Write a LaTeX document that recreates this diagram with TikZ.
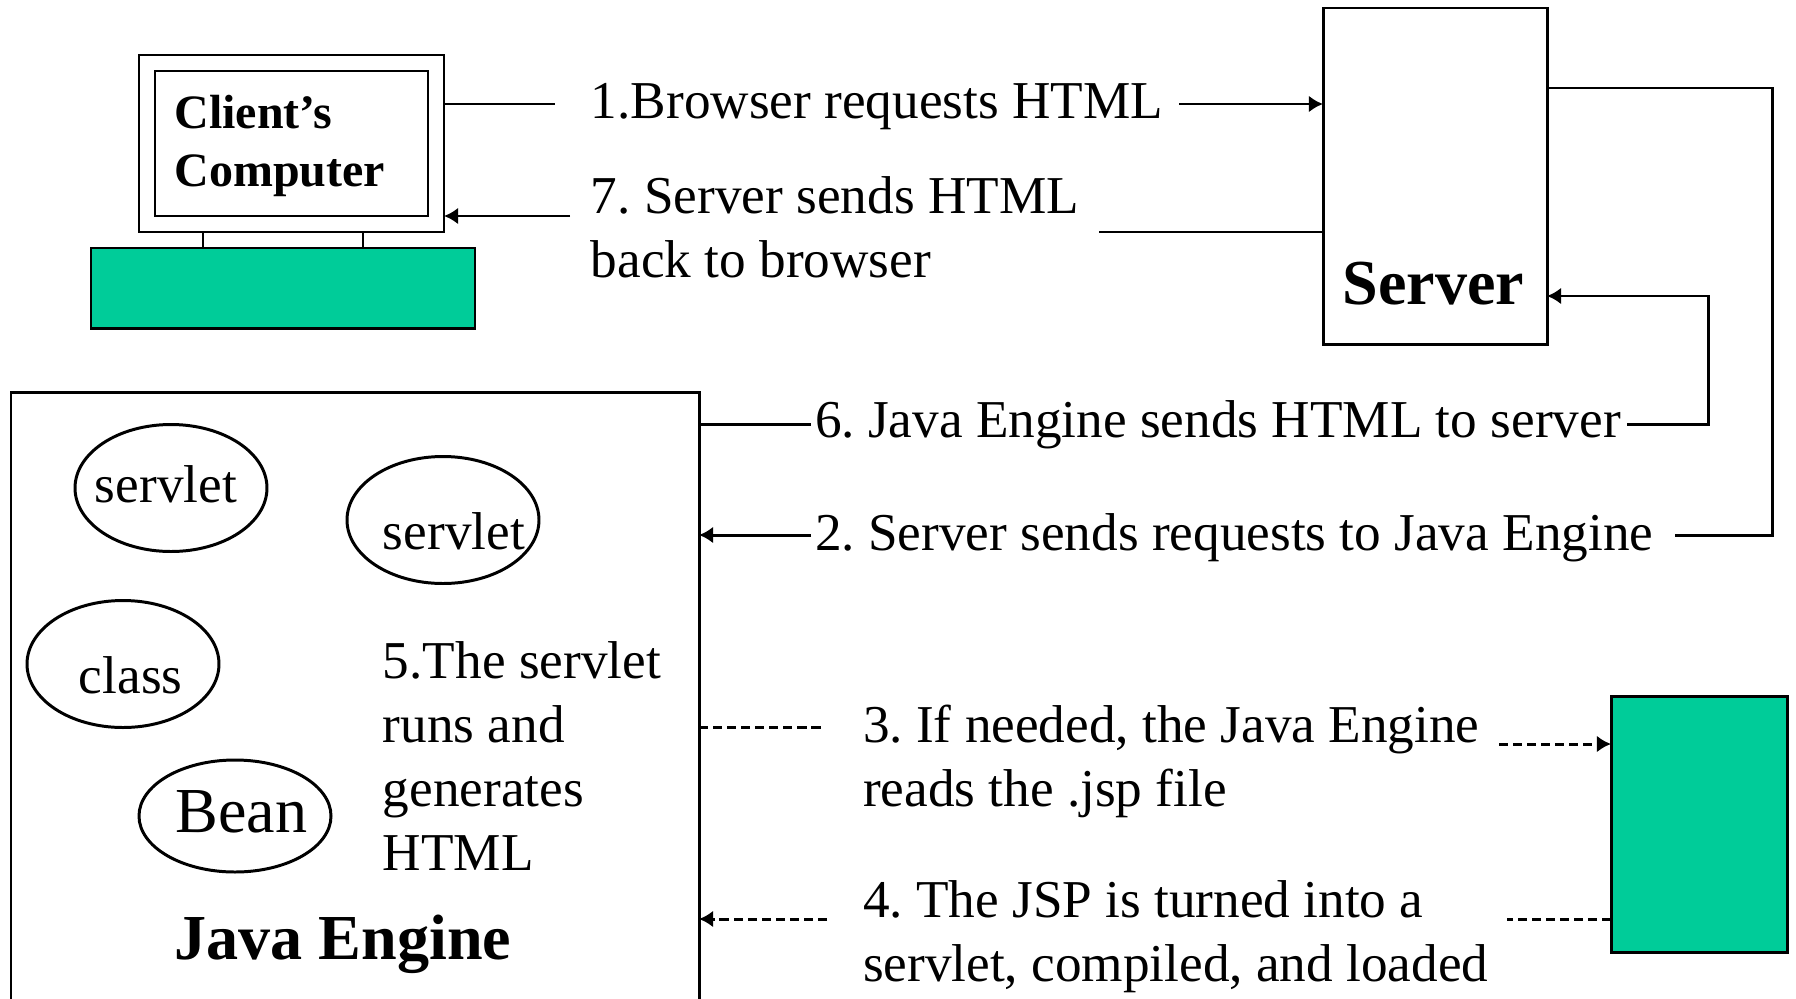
\documentclass[tikz,border=0pt]{standalone}
\usepackage{fontspec}
\setmainfont{Liberation Serif}
\usetikzlibrary{shapes.geometric}
\usetikzlibrary{arrows.meta}
\definecolor{boxgreen}{RGB}{0,204,153}
\def\px{0.02cm}
\begin{document}
\frenchspacing
\begin{tikzpicture}[x=\px,y=-\px,line width=1.7pt,
    >={Latex[length=8pt,width=9.5pt]},
    label/.style={font=\fontsize{30.3}{36.4}\selectfont,anchor=west,align=left,inner sep=0pt},
    title/.style={font=\fontsize{36.5}{40}\selectfont\bfseries,anchor=west,align=left,inner sep=0pt},
    oval/.style={ellipse,draw,minimum width=192*\px,minimum height=127*\px,inner sep=0pt},
    box/.style={draw,anchor=north west,inner sep=0pt,outer sep=0pt},
    dashline/.style={dash pattern=on 5.2pt off 2.8pt}]
    \useasboundingbox (0,0) rectangle (1796,998);

    % Client computer
    \node[box,minimum width=305*\px,minimum height=177*\px] (outer) at (139,55) {};
    \node[box,minimum width=273*\px,minimum height=145*\px] (screen) at (155,71) {};
    \node[box,fill=boxgreen,minimum width=384*\px,minimum height=80*\px] (keyboard) at (91,248) {};
    \draw (203,232) -- (203,248);
    \draw (363,232) -- (363,248);
    \node[anchor=west,align=left,inner sep=0pt,font=\fontsize{27.3}{33}\selectfont\bfseries] (client) at (173,146) {Client’s\\Computer};

    % Server
    \node[box,minimum width=224*\px,minimum height=336*\px] (server) at (1323,8) {};
    \node[title] (servertitle) at (1341,284) {Server};

    % Java engine
    \node[box,minimum width=688*\px,minimum height=700*\px] (engine) at (11,392) {};
    \node[title] (enginetitle) at (173,944) {Java Engine};
    \node[oval] (servlet1) at (171,488) {};
    \node[oval] (servlet2) at (443,520) {};
    \node[oval] (classoval) at (123,664) {};
    \node[oval,minimum height=112*\px] (bean) at (235,816) {};
    \node[label] (servlet1text) at (93.5,484) {servlet};
    \node[label] (servlet2text) at (381.5,531) {servlet};
    \node[label] (classtext) at (77.5,675) {class};
    \node[label,font=\fontsize{36.5}{40}\selectfont] (beantext) at (174,812) {Bean};
    \node[label] (step5) at (381.5,756) {5.The servlet\\runs and\\generates\\HTML};

    % File
    \node[box,fill=boxgreen,minimum width=176*\px,minimum height=256*\px] (file) at (1611,696) {};

    % Labels
    \node[label] (step1) at (589.5,107) {1.Browser requests HTML};
    \node[label] (step7) at (589.5,227) {7. Server sends HTML\\back to browser};
    \node[label] (step6) at (813.5,425) {6. Java Engine sends HTML to server};
    \node[label] (step2) at (813.5,538) {2. Server sends requests to Java Engine};
    \node[label] (step3) at (861.5,761) {3. If needed, the Java Engine\\reads the .jsp file};
    \node[label] (step4) at (861.5,937) {4. The JSP is turned into a\\servlet, compiled, and loaded};

    % Arrows
    \coordinate (a2) at (555,104);
    \coordinate (a3) at (1179,104);
    \draw (outer.east |- a2) -- (a2);
    \draw[->] (a3) -- (server.west |- a3);
    \coordinate (b2) at (1099,232);
    \coordinate (b3) at (570,216);
    \draw (server.west |- b2) -- (b2);
    \draw[->] (b3) -- (outer.east |- b3);
    \coordinate (c1) at (1772,88);
    \coordinate (c2) at (1772,535);
    \coordinate (c3) at (1675,535);
    \coordinate (c4) at (811,535);
    \draw (server.east |- c1) -- (c1) -- (c2) -- (c3);
    \draw[->] (c4) -- (engine.east |- c4);
    \coordinate (d1) at (811,424);
    \coordinate (d2) at (1627,424);
    \coordinate (d3) at (1708,424);
    \coordinate (d4) at (1708,296);
    \draw (engine.east |- d1) -- (d1);
    \draw[->] (d2) -- (d3) -- (d4) -- (server.east |- d4);
    \coordinate (e1) at (823,727);
    \coordinate (e2) at (1499,744);
    \coordinate (e3) at (1507,919);
    \coordinate (e4) at (827,919);
    \draw[dashline] (engine.east |- e1) -- (e1);
    \draw[dashline,->] (e2) -- (file.west |- e2);
    \draw[dashline] (file.west |- e3) -- (e3);
    \draw[dashline,->] (e4) -- (engine.east |- e4);
\end{tikzpicture}
\end{document}
